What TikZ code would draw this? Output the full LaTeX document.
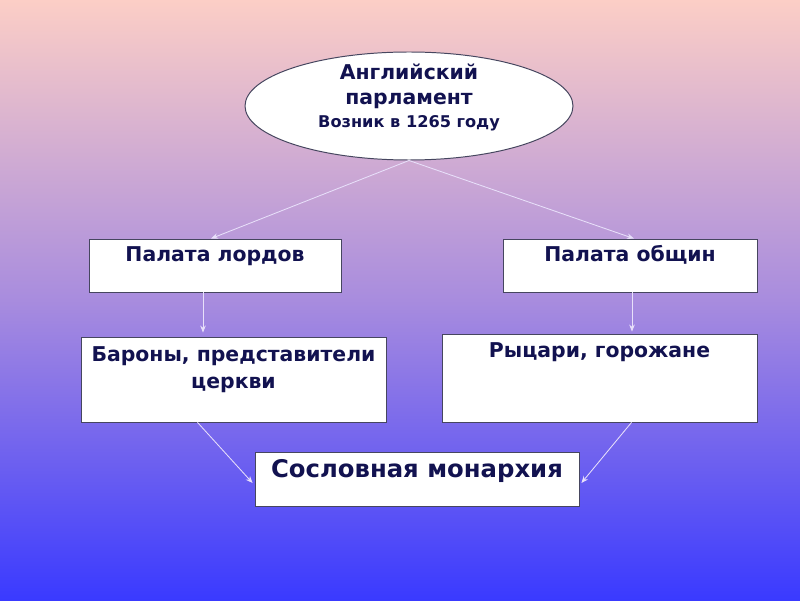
\documentclass[tikz,border=0pt]{standalone}
\usepackage{fontspec}
\setmainfont{DejaVu Sans}
\usetikzlibrary{shapes.geometric, arrows.meta, positioning}

\definecolor{inktext}{RGB}{18,18,80}
\definecolor{bgtop}{RGB}{252,206,198}
\definecolor{bgmid}{RGB}{168,140,222}
\definecolor{bgbot}{RGB}{58,58,255}
\definecolor{edgegray}{RGB}{70,70,95}
\definecolor{arrlight}{RGB}{232,224,250}

\begin{document}
\begin{tikzpicture}[
    every node/.style={text=inktext, font=\bfseries},
    box/.style={rectangle, draw=edgegray, line width=0.6pt, fill=white, inner sep=0pt},
    boxtext/.style={anchor=base, align=center, font=\bfseries\fontsize{14.5}{19.5}\selectfont},
    arr/.style={-{Stealth[length=5pt, width=4pt]}, draw=arrlight, semithick}
]
% background
\shade[top color=bgtop, bottom color=bgbot, middle color=bgmid]
    (0,0) rectangle (20,15);
\useasboundingbox (0,0) rectangle (20,15);

\node[ellipse, draw=edgegray, line width=0.7pt, fill=white,
      minimum width=8.2cm, minimum height=2.7cm] (parl) at (10.225, 12.35) {};
% base of a node with several lines is its last line
\node[anchor=base, align=center, font=\bfseries\fontsize{14.5}{17.8}\selectfont]
    (parlt) at (10.225, 11.8)
    {Английский\\парламент\\[-1.4pt]{\fontsize{11.5}{17}\selectfont Возник в 1265 году}};

\node[box, minimum width=6.3cm,   minimum height=1.325cm] (lords)   at (5.375, 8.3625) {};
\node[box, minimum width=6.35cm,  minimum height=1.325cm] (commons) at (15.75, 8.3625) {};
\node[box, minimum width=7.625cm, minimum height=2.125cm] (barons)  at (5.8375, 5.5125) {};
\node[box, minimum width=7.875cm, minimum height=2.2cm]   (knights) at (14.9875, 5.55) {};
\node[box, minimum width=8.1cm,   minimum height=1.35cm]  (monarchy) at (10.425, 3.025) {};

\node[boxtext] (lordst)   at ([yshift=-0.575cm]lords.north)   {Палата лордов};
\node[boxtext] (commonst) at ([yshift=-0.575cm]commons.north) {Палата общин};
\node[boxtext] (baronst)  at ([yshift=-1.3cm]barons.north)    {Бароны, представители\\церкви};
\node[boxtext] (knightst) at ([yshift=-0.6cm]knights.north)   {Рыцари, горожане};
\node[boxtext, font=\bfseries\fontsize{17.3}{20}\selectfont]
    (monarchyt) at ([yshift=-0.65cm]monarchy.north) {Сословная монархия};

\draw[arr] (parl.south) -- ([xshift=-0.1cm]lords.north);
\draw[arr] (parl.south) -- ([xshift=0.1cm]commons.north);
\draw[arr] ([xshift=-0.3cm]lords.south) -- ([xshift=-0.3cm, yshift=0.1cm]lords.south |- barons.north);
\draw[arr] ([xshift=0.05cm]commons.south) -- ([xshift=0.05cm, yshift=0.05cm]commons.south |- knights.north);
\draw[arr] ([xshift=-0.9cm]barons.south) -- ([xshift=-0.05cm, yshift=-0.1cm]monarchy.west);
\draw[arr] ([xshift=0.8cm]knights.south) -- ([xshift=0.05cm, yshift=-0.1cm]monarchy.east);
\end{tikzpicture}
\end{document}
